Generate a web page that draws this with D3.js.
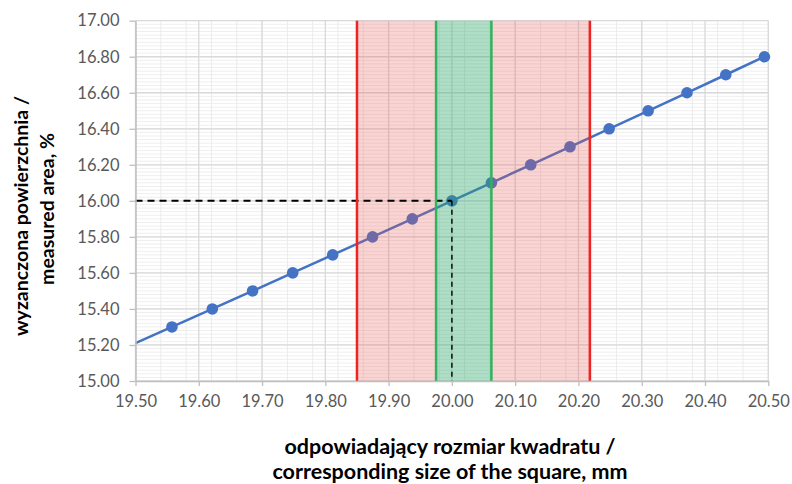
<!DOCTYPE html>
<html><head><meta charset="utf-8">
<script src="https://cdn.jsdelivr.net/npm/d3@7"></script>
<style>body{margin:0;background:#fff}svg{display:block}</style>
</head><body><div id="chart"></div>
<script>
// ---- data ----
const sizeMm   = [19.50, 19.5576, 19.6214, 19.6850, 19.7484, 19.8116, 19.8746, 19.9374, 20.0000, 20.0624, 20.1246, 20.1866, 20.2485, 20.3101, 20.3715, 20.4328, 20.4939];
const areaPct  = [15.21, 15.30, 15.40, 15.50, 15.60, 15.70, 15.80, 15.90, 16.00, 16.10, 16.20, 16.30, 16.40, 16.50, 16.60, 16.70, 16.80];
const showMarker = [false, true, true, true, true, true, true, true, true, true, true, true, true, true, true, true, true];
const redLimits   = [19.85, 20.218];
const greenLimits = [19.975, 20.0624];
const refPoint = [20.00, 16.00];
const xTicks = [19.50, 19.60, 19.70, 19.80, 19.90, 20.00, 20.10, 20.20, 20.30, 20.40, 20.50];
const yTicks = [15.00, 15.20, 15.40, 15.60, 15.80, 16.00, 16.20, 16.40, 16.60, 16.80, 17.00];
const xTitle = ["odpowiadający rozmiar kwadratu /", "corresponding size of the square, mm"];
const yTitle = ["wyzanczona powierzchnia /", "measured  area, %"];

// ---- layout ----
const W = 792, H = 484;
const L = 135.5, R = 768.3, T = 20.7, B = 381;
const font = "Lato, 'Open Sans', sans-serif";

const svg = d3.select("#chart").append("svg").attr("width", W).attr("height", H);
const x = d3.scaleLinear().domain([19.5, 20.5]).range([L, R]);
const y = d3.scaleLinear().domain([15, 17]).range([B, T]);

// minor grid
const yMinor = d3.range(15, 17.0001, 0.02);
const xMinor = d3.range(19.5, 20.5001, 0.04);
svg.append("g").selectAll("line").data(yMinor).join("line")
  .attr("x1", L).attr("x2", R).attr("y1", d => y(d)).attr("y2", d => y(d))
  .attr("stroke", "#efefef").attr("stroke-width", 1);
svg.append("g").selectAll("line").data(xMinor).join("line")
  .attr("x1", d => x(d)).attr("x2", d => x(d)).attr("y1", T).attr("y2", B)
  .attr("stroke", "#ebebeb").attr("stroke-width", 1);
// major grid
svg.append("g").selectAll("line").data(yTicks).join("line")
  .attr("x1", L).attr("x2", R).attr("y1", d => y(d)).attr("y2", d => y(d))
  .attr("stroke", "#d9d9d9").attr("stroke-width", 1.3);
svg.append("g").selectAll("line").data(xTicks).join("line")
  .attr("x1", d => x(d)).attr("x2", d => x(d)).attr("y1", T).attr("y2", B)
  .attr("stroke", "#d9d9d9").attr("stroke-width", 1.3);

// data line + markers
const pts = sizeMm.map((s, i) => ({x: s, y: areaPct[i], m: showMarker[i]}));
svg.append("path").datum(pts)
  .attr("d", d3.line().x(d => x(d.x)).y(d => y(d.y)))
  .attr("fill", "none").attr("stroke", "#4472c4").attr("stroke-width", 2.5);
svg.append("g").selectAll("circle").data(pts.filter(d => d.m)).join("circle")
  .attr("cx", d => x(d.x)).attr("cy", d => y(d.y)).attr("r", 5.8)
  .attr("fill", "#4472c4");

// bands (translucent, above line)
svg.append("rect").attr("x", x(redLimits[0])).attr("y", T)
  .attr("width", x(greenLimits[0]) - x(redLimits[0])).attr("height", B - T)
  .attr("fill", "rgb(235,80,80)").attr("fill-opacity", 0.25);
svg.append("rect").attr("x", x(greenLimits[1])).attr("y", T)
  .attr("width", x(redLimits[1]) - x(greenLimits[1])).attr("height", B - T)
  .attr("fill", "rgb(235,80,80)").attr("fill-opacity", 0.25);
svg.append("rect").attr("x", x(greenLimits[0])).attr("y", T)
  .attr("width", x(greenLimits[1]) - x(greenLimits[0])).attr("height", B - T)
  .attr("fill", "rgb(42,167,105)").attr("fill-opacity", 0.38);

// dashed reference lines
svg.append("line").attr("x1", x(19.5)).attr("x2", x(refPoint[0]))
  .attr("y1", y(refPoint[1])).attr("y2", y(refPoint[1]))
  .attr("stroke", "#000").attr("stroke-width", 2).attr("stroke-dasharray", "7,5");
svg.append("line").attr("x1", x(refPoint[0])).attr("x2", x(refPoint[0]))
  .attr("y1", y(refPoint[1])).attr("y2", y(15))
  .attr("stroke", "#000").attr("stroke-width", 1.4).attr("stroke-dasharray", "5,4");

// limit lines
svg.append("g").selectAll("line").data(redLimits).join("line")
  .attr("x1", d => x(d)).attr("x2", d => x(d)).attr("y1", T).attr("y2", B)
  .attr("stroke", "#ee2424").attr("stroke-width", 2.5);
svg.append("g").selectAll("line").data(greenLimits).join("line")
  .attr("x1", d => x(d)).attr("x2", d => x(d)).attr("y1", T).attr("y2", B)
  .attr("stroke", "#2eb35e").attr("stroke-width", 2.5);

// axes
const xAxis = svg.append("g").attr("transform", `translate(0,${B})`)
  .call(d3.axisBottom(x).tickValues(xTicks).tickFormat(d3.format(".2f")).tickSizeInner(5).tickSizeOuter(0).tickPadding(9));
const yAxis = svg.append("g").attr("transform", `translate(${L},0)`)
  .call(d3.axisLeft(y).tickValues(yTicks).tickFormat(d3.format(".2f")).tickSizeInner(6).tickSizeOuter(0).tickPadding(10));
[xAxis, yAxis].forEach(g => {
  g.select(".domain").attr("stroke", "#bfbfbf").attr("stroke-width", 1.5);
  g.selectAll(".tick line").attr("stroke", "#bfbfbf").attr("stroke-width", 1.3);
  g.selectAll(".tick text").attr("fill", "#595959").style("font-family", font).style("font-size", "16.5px");
});

// titles
svg.append("g").selectAll("text").data(xTitle).join("text")
  .attr("x", 450).attr("y", (d, i) => 454 + i * 25)
  .attr("text-anchor", "middle").attr("fill", "#000")
  .style("font-family", font).style("font-weight", "bold").style("font-size", "21.5px")
  .text(d => d);
svg.append("g").selectAll("text").data(yTitle).join("text")
  .attr("transform", (d, i) => `translate(${28 + i * 26},${i === 0 ? 216 : 209}) rotate(-90)`)
  .attr("text-anchor", "middle").attr("fill", "#000")
  .style("font-family", font).style("font-weight", "bold").style("font-size", "19.5px")
  .text(d => d);
</script></body></html>
